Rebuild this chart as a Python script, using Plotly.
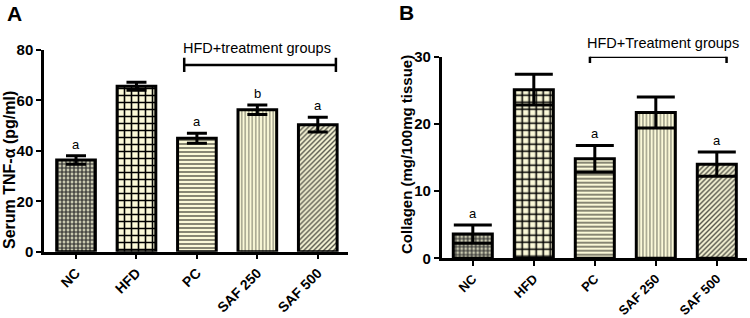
import plotly.graph_objects as go
from plotly.subplots import make_subplots

groups = ["NC", "HFD", "PC", "SAF 250", "SAF 500"]

tnf_mean = [36.4, 65.6, 45.0, 56.3, 50.4]
tnf_err = [1.7, 1.6, 2.0, 1.9, 2.9]
tnf_letters = ["a", "", "a", "b", "a"]

col_mean = [3.6, 25.1, 14.8, 21.7, 14.0]
col_err = [1.35, 2.3, 2.0, 2.3, 1.8]
col_letters = ["a", "", "a", "", "a"]

pat_shape = ["+", "+", "-", "|", "/"]
pat_fg = ["#2a2a2a", "#000000", "#3a3a30", "#8c8c78", "#55554a"]
pat_bg = ["#c9c9b0", "#fbf9d8", "#fbf9d8", "#fbf9d8", "#f5f3d4"]
pat_size = [4, 7, 4, 3.5, 3.5]
pat_sol = [0.5, 0.4, 0.3, 0.35, 0.4]

FONT = "Liberation Sans, Arial, sans-serif"
W, H = 750, 318

fig = make_subplots(rows=1, cols=2)


def add_panel(col, means, errs, cap):
    fig.add_trace(
        go.Bar(
            x=groups,
            y=means,
            width=0.64,
            marker=dict(
                line=dict(color="black", width=3),
                pattern=dict(shape=pat_shape, fgcolor=pat_fg, bgcolor=pat_bg,
                             size=pat_size, solidity=pat_sol, fillmode="replace"),
            ),
            error_y=dict(type="data", array=errs, symmetric=True, color="black",
                         thickness=3, width=cap),
            showlegend=False,
            hoverinfo="skip",
        ),
        row=1, col=col,
    )


add_panel(1, tnf_mean, tnf_err, 10)
add_panel(2, col_mean, col_err, 19)

axis_common = dict(showline=True, linecolor="black", linewidth=2.5, ticks="outside",
                   tickwidth=2, tickcolor="black", ticklen=5, showgrid=False, zeroline=False,
                   automargin=False)
xfont_a = dict(family=FONT, size=14, color="black", weight="bold")
xfont_b = dict(family=FONT, size=13, color="black", weight="bold")
yfont = dict(family=FONT, size=15, color="black", weight="bold")

fig.update_xaxes(**axis_common, tickfont=xfont_a, tickangle=-45, row=1, col=1,
                 domain=[44 / W, 348 / W], range=[-0.53, 4.5])
fig.update_xaxes(**axis_common, tickfont=xfont_b, tickangle=-45, row=1, col=2,
                 domain=[441.7 / W, 746.7 / W], range=[-0.51, 4.49])
fig.update_yaxes(**axis_common, tickfont=yfont, row=1, col=1,
                 domain=[(H - 251.7) / H, (H - 50) / H], range=[0, 80],
                 tickvals=[0, 20, 40, 60, 80])
fig.update_yaxes(**axis_common, tickfont=yfont, row=1, col=2,
                 domain=[(H - 258.3) / H, (H - 56.7) / H], range=[0, 30],
                 tickvals=[0, 10, 20, 30])

ann = []
# significance letters
for i, (m, e, l) in enumerate(zip(tnf_mean, tnf_err, tnf_letters)):
    if l:
        ann.append(dict(x=groups[i], y=m + e, xref="x", yref="y", text=l, showarrow=False,
                        yanchor="bottom", yshift=2, font=dict(family=FONT, size=13, color="black")))
for i, (m, e, l) in enumerate(zip(col_mean, col_err, col_letters)):
    if l:
        ann.append(dict(x=groups[i], y=m + e, xref="x2", yref="y2", text=l, showarrow=False,
                        yanchor="bottom", yshift=2, font=dict(family=FONT, size=13, color="black")))

mid = dict(xanchor="center", yanchor="middle", showarrow=False)

# bracket labels (y in paper units: above the axis range)
ann.append(dict(x=3.0, y=(H - 48) / H, xref="x", yref="paper", text="HFD+treatment groups",
                font=dict(family=FONT, size=14.5, color="black"), **mid))
ann.append(dict(x=3.12, y=(H - 43) / H, xref="x2", yref="paper", text="HFD+Treatment groups",
                font=dict(family=FONT, size=14.5, color="black"), **mid))

# axis titles
ann.append(dict(x=9 / W, y=(H - 170) / H, xref="paper", yref="paper", text="Serum TNF-α (pg/ml)",
                textangle=-90, font=dict(family=FONT, size=16, color="black", weight="bold"), **mid))
ann.append(dict(x=406 / W, y=(H - 155) / H, xref="paper", yref="paper",
                text="Collagen (mg/100mg tissue)", textangle=-90,
                font=dict(family=FONT, size=15, color="black", weight="bold"), **mid))
# panel letters
ann.append(dict(x=14 / W, y=(H - 14) / H, xref="paper", yref="paper", text="A",
                font=dict(family=FONT, size=21, color="black", weight="bold"), **mid))
ann.append(dict(x=406 / W, y=(H - 13) / H, xref="paper", yref="paper", text="B",
                font=dict(family=FONT, size=21, color="black", weight="bold"), **mid))

shapes = []
# bracket A
shapes.append(dict(type="line", xref="x", yref="y", x0=1.79, x1=4.3, y0=74.1, y1=74.1,
                   line=dict(color="black", width=2.5)))
for xv in (1.79, 4.3):
    shapes.append(dict(type="line", xref="x", yref="y", x0=xv, x1=xv, y0=71.3, y1=76.9,
                       line=dict(color="black", width=2.5)))
# bracket B
shapes.append(dict(type="line", xref="x2", yref="y2", x0=1.92, x1=4.16, y0=30.0, y1=30.0,
                   line=dict(color="black", width=2.5)))
for xv in (1.92, 4.16):
    shapes.append(dict(type="line", xref="x2", yref="y2", x0=xv, x1=xv, y0=29.05, y1=30.95,
                       line=dict(color="black", width=2.5)))

fig.update_layout(
    width=W, height=H,
    margin=dict(l=0, r=0, t=0, b=0),
    paper_bgcolor="white", plot_bgcolor="white",
    annotations=ann, shapes=shapes,
    font=dict(family=FONT, color="black"),
    hovermode=False,
)

fig.write_html(
    "out.html",
    config={"displayModeBar": False},
    post_script="document.body.style.margin='0';document.body.style.padding='0';"
                "document.body.style.overflow='hidden';",
)
